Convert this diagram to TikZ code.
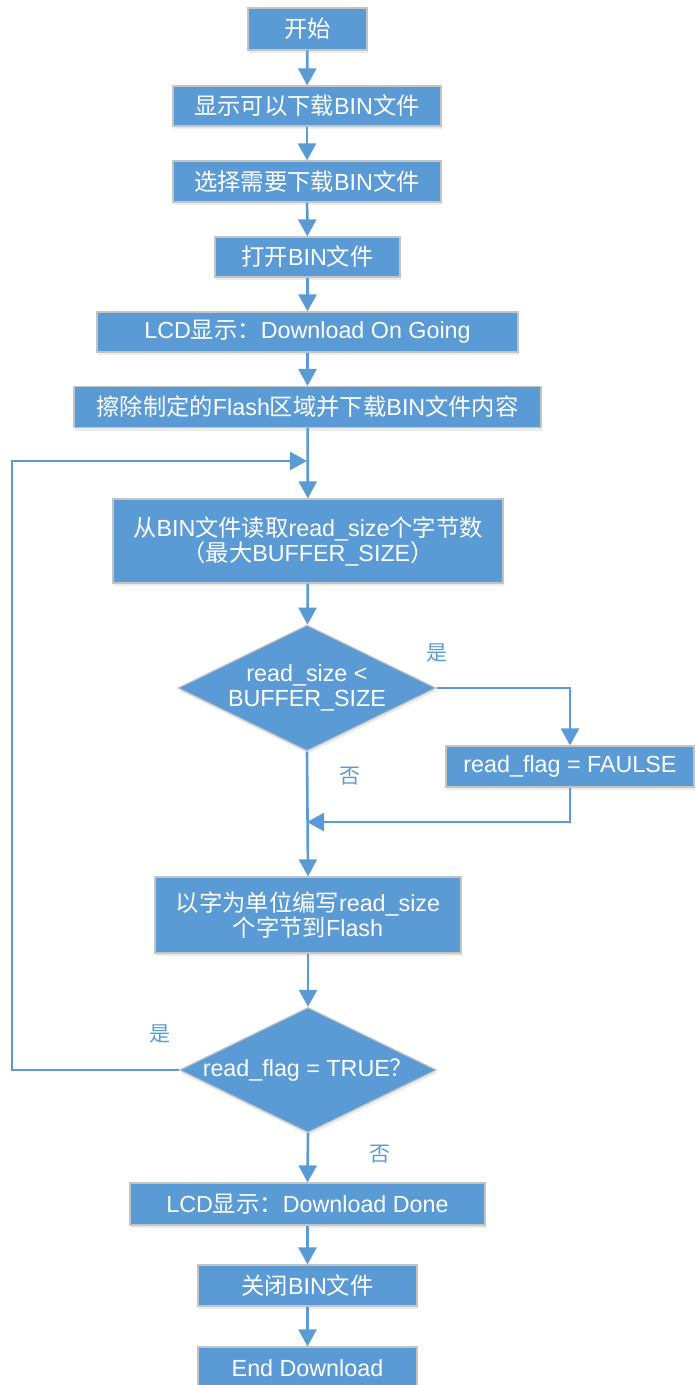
\documentclass[tikz,border=0pt]{standalone}
\usepackage{fontspec}
\setmainfont{Liberation Sans}
\newfontfamily\cjk{Noto Sans CJK SC}
\newcommand\zhtxt[1]{{\cjk #1}}
\usetikzlibrary{shapes.geometric,arrows.meta,shadows}
\definecolor{boxblue}{HTML}{5B9BD5}
\definecolor{boxedge}{HTML}{C4C4C4}
\tikzset{
  stepbox/.style={draw=boxedge,line width=1.2pt,fill=boxblue,text=white,align=center,
    inner sep=0pt,font=\fontsize{23.3}{25}\selectfont,
    drop shadow={opacity=0.15,shadow xshift=1pt,shadow yshift=-3pt}},
  decbox/.style={stepbox,shape=diamond,aspect=2.05},
  conn/.style={draw=boxblue,line width=2.6pt,-{Triangle[width=18pt,length=17pt]}},
  lbl/.style={text=boxblue,font=\cjk\fontsize{21}{23}\selectfont}
}
\begin{document}
\begin{tikzpicture}[x=1pt,y=-1pt]
\useasboundingbox (0,0) rectangle (696,1385);
\node[stepbox,minimum width=119pt,minimum height=42pt] (n1) at (307.5,29) {\zhtxt{开始}};
\node[stepbox,minimum width=268pt,minimum height=40pt] (n2) at (307,106) {\zhtxt{显示可以下载}BIN\zhtxt{文件}};
\node[stepbox,minimum width=268pt,minimum height=41pt] (n3) at (307,181.5) {\zhtxt{选择需要下载}BIN\zhtxt{文件}};
\node[stepbox,minimum width=185pt,minimum height=40pt] (n4) at (307.5,257) {\zhtxt{打开}BIN\zhtxt{文件}};
\node[stepbox,minimum width=421pt,minimum height=40pt] (n5) at (307.5,332) {LCD\zhtxt{显示：}Download On Going};
\node[stepbox,minimum width=467pt,minimum height=41pt] (n6) at (307.5,407) {\zhtxt{擦除制定的}Flash\zhtxt{区域并下载}BIN\zhtxt{文件内容}};
\node[stepbox,minimum width=390pt,minimum height=84pt] (n7) at (308,541) {\zhtxt{从}BIN\zhtxt{文件读取}read\_size\zhtxt{个字节数}\\\zhtxt{（最大}BUFFER\_SIZE\zhtxt{）}};
\node[decbox,minimum width=258pt,minimum height=126pt] (d1) at (307,688) {read\_size <\\BUFFER\_SIZE};
\node[stepbox,minimum width=248pt,minimum height=41pt] (r1) at (570,766.5) {read\_flag = FAULSE};
\node[stepbox,minimum width=306pt,minimum height=76pt] (n8) at (308,915) {\zhtxt{以字为单位编写}read\_size\\\zhtxt{个字节到}Flash};
\node[decbox,minimum width=257pt,minimum height=125pt] (d2) at (308,1070) {read\_flag = TRUE\zhtxt{？}};
\node[stepbox,minimum width=355pt,minimum height=42pt] (n9) at (307.5,1204) {LCD\zhtxt{显示：}Download Done};
\node[stepbox,minimum width=219pt,minimum height=41pt] (n10) at (307.5,1285.5) {\zhtxt{关闭}BIN\zhtxt{文件}};
\node[stepbox,minimum width=219pt,minimum height=42pt] (n11) at (307.5,1368) {End Download};

\coordinate (j1) at (307,461);
\coordinate (lp) at (12,461);
\coordinate (j2) at (307,822);

\draw[conn] (n1) -- (n2);
\draw[conn] (n2) -- (n3);
\draw[conn] (n3) -- (n4);
\draw[conn] (n4) -- (n5);
\draw[conn] (n5) -- (n6);
\draw[conn] (n6) -- (n7);
\draw[conn] (n7) -- (d1);
\draw[conn] (d1.east) -| (r1.north);
\draw[conn] (r1.south) |- (j2);
\draw[conn] (d1.south) -- (n8.north);
\draw[conn] (n8) -- (d2);
\draw[conn] (d2.west) -| (lp) -- (j1);
\draw[conn] (d2.south) -- (n9.north);
\draw[conn] (n9) -- (n10);
\draw[conn] (n10) -- (n11);

\node[lbl] (y1) at (437,653) {是};
\node[lbl] (no1) at (350,776) {否};
\node[lbl] (y2) at (160,1034) {是};
\node[lbl] (no2) at (380,1154) {否};
\end{tikzpicture}
\end{document}
